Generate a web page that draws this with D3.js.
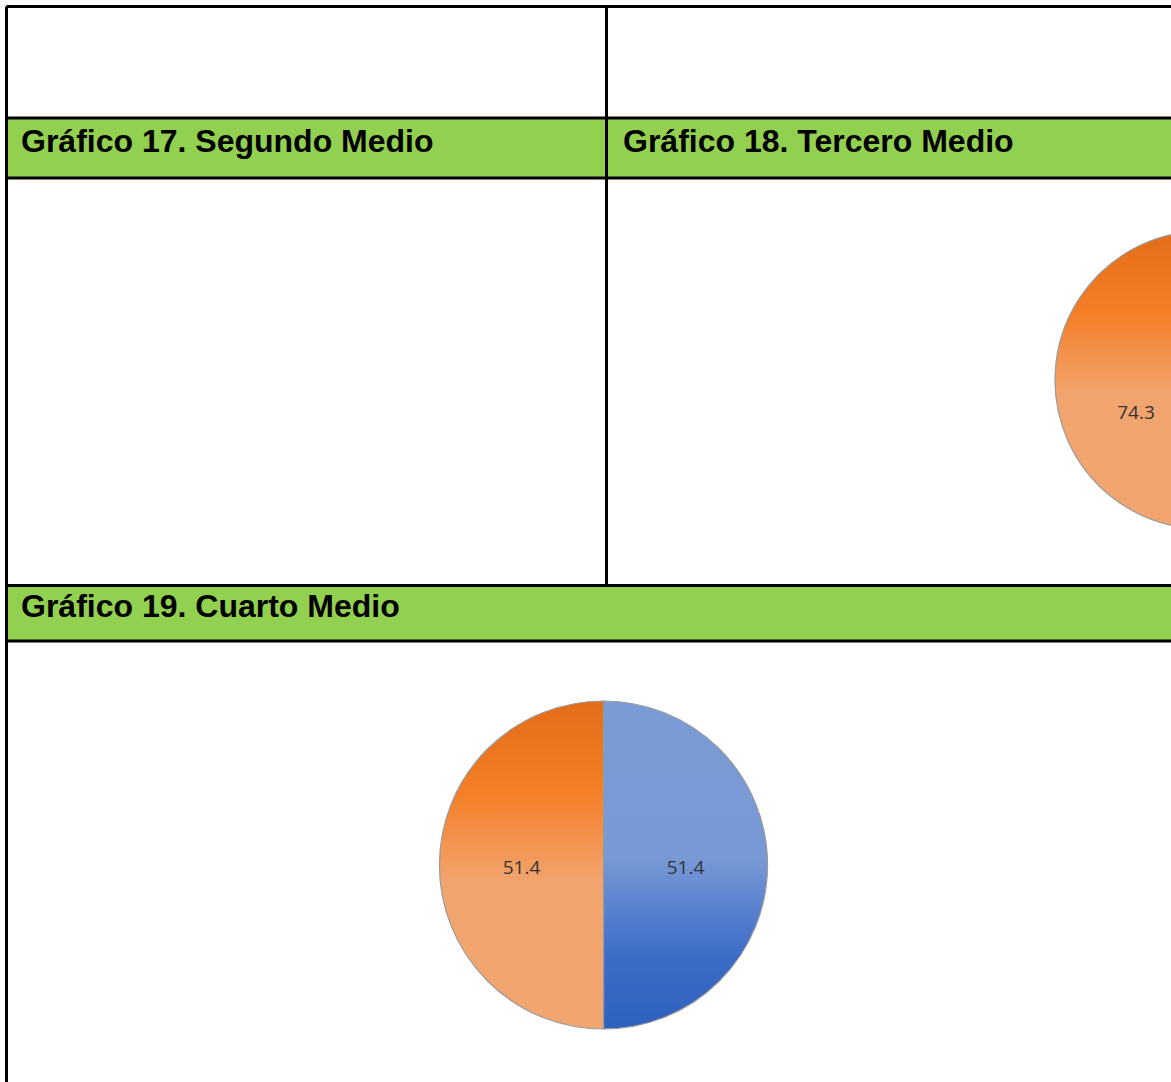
<!DOCTYPE html>
<html>
<head>
<meta charset="utf-8">
<script src="https://cdn.jsdelivr.net/npm/d3@7"></script>
<style>
  html, body { margin: 0; padding: 0; background: #fff; overflow: hidden; }
</style>
</head>
<body>
<div id="canvas"></div>
<script>
// titles of the table cells
var titles = ["Gráfico 17. Segundo Medio", "Gráfico 18. Tercero Medio", "Gráfico 19. Cuarto Medio"];
// slice order: blue first (from 12 o'clock, clockwise), then orange
var series = ["blue", "orange"];
var tercero = [43.0, 74.3];
var cuarto = [51.4, 51.4];

var W = 1171, H = 1082;
var svg = d3.select('#canvas').append('svg')
  .attr('width', W)
  .attr('height', H);

var defs = svg.append('defs');

var og = defs.append('linearGradient').attr('id', 'gOrange')
  .attr('x1', 0).attr('y1', 0).attr('x2', 0).attr('y2', 1);
og.append('stop').attr('offset', '0%').attr('stop-color', '#e36c19');
og.append('stop').attr('offset', '27%').attr('stop-color', '#f47e25');
og.append('stop').attr('offset', '55%').attr('stop-color', '#f2a46e');
og.append('stop').attr('offset', '100%').attr('stop-color', '#f2a56f');

var bg = defs.append('linearGradient').attr('id', 'gBlue')
  .attr('x1', 0).attr('y1', 0).attr('x2', 0).attr('y2', 1);
bg.append('stop').attr('offset', '0%').attr('stop-color', '#7b9bd6');
bg.append('stop').attr('offset', '48%').attr('stop-color', '#7799d5');
bg.append('stop').attr('offset', '78%').attr('stop-color', '#3c6cc8');
bg.append('stop').attr('offset', '100%').attr('stop-color', '#2e61be');

var fills = d3.scaleOrdinal().domain(series).range(['url(#gBlue)', 'url(#gOrange)']);

// table background rows
var green = '#92d050';
svg.append('rect').attr('x', 6).attr('y', 118).attr('width', W).attr('height', 60).attr('fill', green);
svg.append('rect').attr('x', 6).attr('y', 585).attr('width', W).attr('height', 56).attr('fill', green);

// pies
var pie = d3.pie().sort(null).value(function (d) { return d; });

function drawPie(vals, cx, cy, r) {
  var arc = d3.arc().innerRadius(0).outerRadius(r);
  var g = svg.append('g').attr('transform', 'translate(' + cx + ',' + cy + ')');
  var arcs = pie(vals);
  g.selectAll('path').data(arcs).enter().append('path')
    .attr('d', arc)
    .attr('fill', function (d, i) { return fills(series[i]); })
    .attr('stroke', '#9a9a9a')
    .attr('stroke-width', 1.2);
  // labels of slices that fall outside the page are not shown
  var shown = arcs.filter(function (d) { return cx + arc.centroid(d)[0] + 20 < W; });
  g.selectAll('text').data(shown).enter().append('text')
    .attr('x', function (d) { return arc.centroid(d)[0]; })
    .attr('y', function (d) { return arc.centroid(d)[1] + 2; })
    .attr('text-anchor', 'middle')
    .attr('dominant-baseline', 'central')
    .attr('font-family', 'Open Sans, DejaVu Sans, sans-serif')
    .attr('font-size', 19)
    .attr('fill', '#333')
    .text(function (d) { return d3.format('.1f')(d.data); });
}

drawPie(tercero, 1204, 380, 149);
drawPie(cuarto, 603.5, 865, 164);

// table borders
var lines = [
  [6.5, 6.5, W, 6.5],
  [6.5, 6.5, 6.5, H],
  [606.5, 6.5, 606.5, 585.5],
  [6.5, 118, W, 118],
  [6.5, 178, W, 178],
  [6.5, 585.5, W, 585.5],
  [6.5, 641, W, 641]
];
svg.selectAll('line.b').data(lines).enter().append('line')
  .attr('class', 'b')
  .attr('x1', function (d) { return d[0]; })
  .attr('y1', function (d) { return d[1]; })
  .attr('x2', function (d) { return d[2]; })
  .attr('y2', function (d) { return d[3]; })
  .attr('stroke', '#000')
  .attr('stroke-width', 3);

// cell titles
var titlePos = [[21, 152], [623, 152], [21, 617]];
svg.selectAll('text.t').data(titles).enter().append('text')
  .attr('class', 't')
  .attr('x', function (d, i) { return titlePos[i][0]; })
  .attr('y', function (d, i) { return titlePos[i][1]; })
  .attr('font-family', 'Liberation Sans, Arial, sans-serif')
  .attr('font-weight', 'bold')
  .attr('font-size', 32)
  .attr('fill', '#000')
  .text(function (d) { return d; });
</script>
</body>
</html>
